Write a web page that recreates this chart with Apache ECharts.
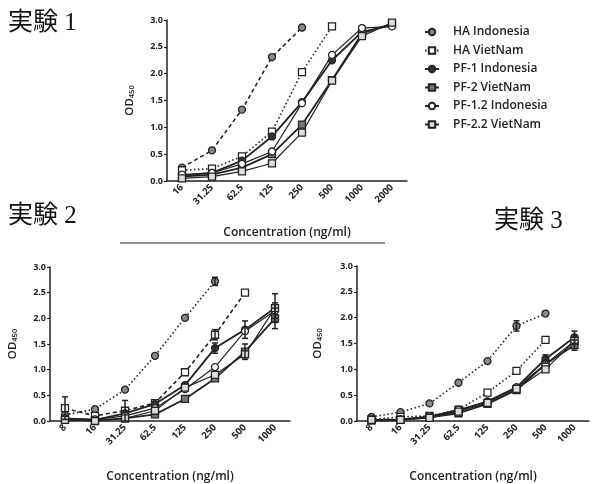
<!DOCTYPE html>
<html>
<head>
<meta charset="utf-8">
<script src="https://cdn.jsdelivr.net/npm/echarts@6/dist/echarts.min.js"></script>
<style>
  html, body { margin: 0; padding: 0; background: #fff; }
  #chart { width: 593px; height: 484px; }
</style>
</head>
<body>
<div id="chart"></div>
<script>
// categories
const cats1 = ['16', '31.25', '62.5', '125', '250', '500', '1000', '2000'];
const cats23 = ['8', '16', '31.25', '62.5', '125', '250', '500', '1000'];
const yTicks = [0, 0.5, 1.0, 1.5, 2.0, 2.5, 3.0];

// 実験 1
const ex1HaIndo = [0.25, 0.57, 1.33, 2.31, 2.86];
const ex1HaViet = [0.20, 0.23, 0.46, 0.92, 2.03, 2.88];
const ex1Pf1Indo = [0.10, 0.15, 0.38, 0.83, 1.47, 2.25, 2.78, 2.90];
const ex1Pf2Viet = [0.08, 0.12, 0.25, 0.50, 1.05, 1.88, 2.75, 2.93];
const ex1Pf12Indo = [0.12, 0.15, 0.32, 0.55, 1.45, 2.35, 2.85, 2.88];
const ex1Pf22Viet = [0.05, 0.08, 0.18, 0.33, 0.90, 1.87, 2.70, 2.95];

// 実験 2
const ex2HaIndo = [0.12, 0.23, 0.61, 1.27, 2.01, 2.72];
const ex2HaViet = [0.25, 0.10, 0.20, 0.35, 0.95, 1.68, 2.50];
const ex2Pf1Indo = [0.05, 0.02, 0.15, 0.33, 0.70, 1.42, 1.78, 2.20];
const ex2Pf2Viet = [0.03, 0.01, 0.05, 0.13, 0.43, 0.83, 1.35, 2.00];
const ex2Pf12Indo = [0.05, 0.03, 0.10, 0.25, 0.62, 1.05, 1.75, 2.15];
const ex2Pf22Viet = [0.02, 0.00, 0.05, 0.20, 0.65, 0.90, 1.30, 2.20];
// [category index, value, error]
const ex2Err = [[0, 0.25, 0.22], [2, 0.20, 0.20], [5, 2.72, 0.08], [5, 1.68, 0.1], [5, 1.42, 0.1],
  [6, 1.78, 0.17], [6, 1.35, 0.15], [7, 2.20, 0.28], [7, 2.00, 0.2], [7, 2.15, 0.15]];

// 実験 3
const ex3HaIndo = [0.08, 0.17, 0.34, 0.74, 1.16, 1.84, 2.08];
const ex3HaViet = [0.03, 0.08, 0.10, 0.22, 0.55, 0.97, 1.57];
const ex3Pf1Indo = [0.02, 0.03, 0.08, 0.20, 0.38, 0.65, 1.20, 1.62];
const ex3Pf2Viet = [0.01, 0.02, 0.07, 0.15, 0.33, 0.60, 1.10, 1.47];
const ex3Pf12Indo = [0.02, 0.03, 0.09, 0.22, 0.37, 0.65, 1.10, 1.55];
const ex3Pf22Viet = [0.02, 0.02, 0.06, 0.18, 0.35, 0.62, 1.00, 1.55];
const ex3Err = [[5, 1.84, 0.1], [6, 1.20, 0.08], [7, 1.62, 0.12], [7, 1.47, 0.1]];

const names = ['HA Indonesia', 'HA VietNam', 'PF-1 Indonesia', 'PF-2 VietNam', 'PF-1.2 Indonesia', 'PF-2.2 VietNam'];

const FONT = 'Open Sans';
const INK = '#222';

// look of each series (symbol, fill, line)
const looks = [
  { symbol: 'circle', fill: '#8a8a8a', line: [4, 3], width: 1.6 },
  { symbol: 'rect', fill: '#fff', line: [1.5, 2.5], width: 1.6 },
  { symbol: 'circle', fill: '#333', line: 'solid', width: 1.8 },
  { symbol: 'rect', fill: '#777', line: 'solid', width: 1.8 },
  { symbol: 'circle', fill: '#fff', line: 'solid', width: 1.2 },
  { symbol: 'rect', fill: '#ddd', line: 'solid', width: 1.2 }
];

function mkSeries(idx, data, k, lineOverride) {
  const lk = looks[k];
  return {
    name: names[k],
    type: 'line',
    xAxisIndex: idx,
    yAxisIndex: idx,
    data: data,
    symbol: lk.symbol,
    symbolSize: 7,
    itemStyle: { color: lk.fill, borderColor: INK, borderWidth: 1.3 },
    lineStyle: { color: INK, width: lk.width, type: lineOverride || lk.line },
    emphasis: { disabled: true },
    z: 3
  };
}

function errSeries(idx, errs) {
  return {
    type: 'custom',
    xAxisIndex: idx,
    yAxisIndex: idx,
    data: errs,
    z: 4,
    renderItem: function (params, api) {
      const c = api.value(0);
      const v = api.value(1);
      const e = api.value(2);
      const top = api.coord([c, v + e]);
      const bot = api.coord([c, v - e]);
      const w = 3;
      const st = { stroke: INK, lineWidth: 1.5 };
      return {
        type: 'group',
        children: [
          { type: 'line', shape: { x1: top[0], y1: top[1], x2: bot[0], y2: bot[1] }, style: st },
          { type: 'line', shape: { x1: top[0] - w, y1: top[1], x2: top[0] + w, y2: top[1] }, style: st },
          { type: 'line', shape: { x1: bot[0] - w, y1: bot[1], x2: bot[0] + w, y2: bot[1] }, style: st }
        ]
      };
    }
  };
}

function xAx(idx, cats, gap) {
  return {
    type: 'category',
    gridIndex: idx,
    data: cats,
    boundaryGap: true,
    axisLine: { lineStyle: { color: INK, width: 1.5 } },
    axisTick: { alignWithLabel: true, length: 3, lineStyle: { color: INK, width: 1.2 } },
    axisLabel: { rotate: 45, fontSize: 9.5, fontWeight: 'bold', fontFamily: FONT, color: INK, margin: 5 },
    name: 'Concentration (ng/ml)',
    nameLocation: 'middle',
    nameGap: gap,
    nameTextStyle: { fontSize: 12, fontFamily: FONT, color: INK, fontWeight: 600 }
  };
}

function yAx(idx, gap) {
  return {
    type: 'value',
    gridIndex: idx,
    min: 0,
    max: 3,
    interval: 0.5,
    splitLine: { show: false },
    axisLine: { show: true, lineStyle: { color: INK, width: 1.5 } },
    axisTick: { show: true, length: 3, lineStyle: { color: INK, width: 1.2 } },
    axisLabel: {
      fontSize: 9, fontWeight: 'bold', fontFamily: FONT, color: INK, margin: 4,
      formatter: function (v) { return yTicks.indexOf(v) >= 0 ? v.toFixed(1) : ''; }
    },
    name: '{a|OD}{b|450}',
    nameLocation: 'middle',
    nameRotate: 90,
    nameGap: gap,
    nameTextStyle: {
      rich: {
        a: { fontSize: 11.5, fontFamily: FONT, color: INK, fontWeight: 600 },
        b: { fontSize: 7.5, fontFamily: FONT, color: INK, fontWeight: 600, padding: [5, 0, 0, 0] }
      }
    }
  };
}

const chart = echarts.init(document.getElementById('chart'), null, { renderer: 'canvas' });

const series = [
  mkSeries(0, ex1HaIndo, 0), mkSeries(0, ex1HaViet, 1), mkSeries(0, ex1Pf1Indo, 2),
  mkSeries(0, ex1Pf2Viet, 3), mkSeries(0, ex1Pf12Indo, 4), mkSeries(0, ex1Pf22Viet, 5),
  mkSeries(1, ex2HaIndo, 0, [1.5, 2.5]), mkSeries(1, ex2HaViet, 1, [4, 3]), mkSeries(1, ex2Pf1Indo, 2),
  mkSeries(1, ex2Pf2Viet, 3), mkSeries(1, ex2Pf12Indo, 4), mkSeries(1, ex2Pf22Viet, 5),
  errSeries(1, ex2Err),
  mkSeries(2, ex3HaIndo, 0, [1.5, 2.5]), mkSeries(2, ex3HaViet, 1), mkSeries(2, ex3Pf1Indo, 2),
  mkSeries(2, ex3Pf2Viet, 3), mkSeries(2, ex3Pf12Indo, 4), mkSeries(2, ex3Pf22Viet, 5),
  errSeries(2, ex3Err)
];

const titleStyle = { fontSize: 25, fontFamily: 'Liberation Serif, Noto Sans CJK JP', fill: '#111' };

chart.setOption({
  animation: false,
  backgroundColor: '#fff',
  grid: [
    { left: 167, top: 20, width: 240, height: 161 },
    { left: 50, top: 267, width: 240, height: 159 },
    { left: 357, top: 266, width: 232, height: 158 }
  ],
  xAxis: [xAx(0, cats1, 46), xAx(1, cats23, 50), xAx(2, cats23, 50)],
  yAxis: [yAx(0, 31), yAx(1, 31), yAx(2, 33)],
  legend: {
    data: names,
    orient: 'vertical',
    left: 424,
    top: 26,
    padding: 0,
    itemWidth: 14,
    itemHeight: 8,
    itemGap: 6.5,
    textStyle: { fontSize: 12, fontFamily: FONT, fontWeight: 600, color: INK, padding: [0, 0, 0, 9] },
    selectedMode: false
  },
  graphic: [
    { type: 'text', left: 8, top: 11, style: Object.assign({ text: '実験 1' }, titleStyle) },
    { type: 'text', left: 8, top: 204, style: Object.assign({ text: '実験 2' }, titleStyle) },
    { type: 'text', left: 494, top: 209, style: Object.assign({ text: '実験 3' }, titleStyle) },
    { type: 'line', shape: { x1: 120, y1: 243, x2: 385, y2: 243 }, style: { stroke: '#222', lineWidth: 1.2 } }
  ],
  series: series
});
</script>
</body>
</html>
